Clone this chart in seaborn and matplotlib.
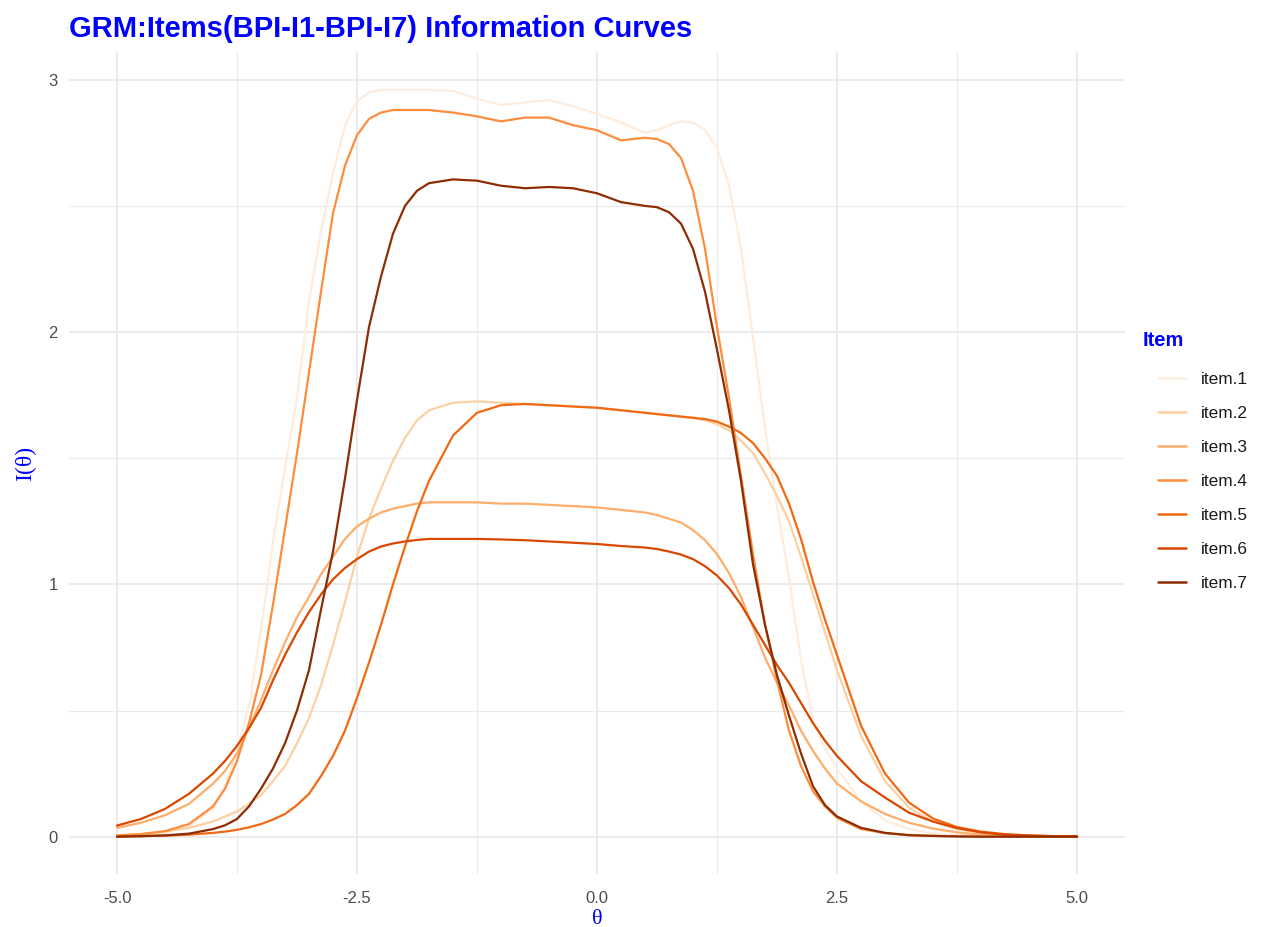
import pandas as pd
import matplotlib.pyplot as plt
import seaborn as sns

# theta grid: finer where the curves bend sharply
theta = [-5.0, -4.75, -4.5, -4.25, -4.0,
         -3.875, -3.75, -3.625, -3.5, -3.375, -3.25, -3.125, -3.0, -2.875,
         -2.75, -2.625, -2.5, -2.375, -2.25, -2.125, -2.0, -1.875, -1.75,
         -1.5, -1.25, -1.0, -0.75, -0.5, -0.25, 0.0, 0.25, 0.5,
         0.625, 0.75, 0.875, 1.0, 1.125, 1.25, 1.375, 1.5, 1.625, 1.75,
         1.875, 2.0, 2.125, 2.25, 2.375, 2.5,
         2.75, 3.0, 3.25, 3.5, 3.75, 4.0, 4.25, 4.5, 4.75, 5.0]

# information values, one list per item
item1 = [0.003, 0.006, 0.015, 0.04, 0.11,
         0.20, 0.34, 0.52, 0.82, 1.17, 1.46, 1.74, 2.12, 2.40,
         2.63, 2.82, 2.915, 2.95, 2.96, 2.96, 2.96, 2.96, 2.96,
         2.955, 2.925, 2.90, 2.91, 2.92, 2.895, 2.865, 2.83, 2.79,
         2.80, 2.82, 2.835, 2.83, 2.80, 2.73, 2.58, 2.33, 1.98, 1.62,
         1.31, 1.03, 0.70, 0.46, 0.35, 0.27,
         0.14, 0.065, 0.03, 0.013, 0.006, 0.003, 0.002, 0.001, 0.0, 0.0]
item2 = [0.005, 0.01, 0.02, 0.035, 0.06,
         0.08, 0.10, 0.13, 0.165, 0.22, 0.28, 0.37, 0.47, 0.60,
         0.76, 0.93, 1.11, 1.26, 1.38, 1.49, 1.58, 1.65, 1.69,
         1.72, 1.725, 1.72, 1.715, 1.71, 1.705, 1.70, 1.69, 1.68,
         1.675, 1.67, 1.665, 1.66, 1.65, 1.635, 1.61, 1.57, 1.52, 1.44,
         1.35, 1.25, 1.11, 0.96, 0.81, 0.66,
         0.40, 0.22, 0.115, 0.06, 0.03, 0.015, 0.007, 0.003, 0.001, 0.0]
item3 = [0.035, 0.055, 0.085, 0.13, 0.21,
         0.26, 0.33, 0.43, 0.54, 0.66, 0.77, 0.87, 0.95, 1.04,
         1.11, 1.18, 1.23, 1.26, 1.285, 1.30, 1.31, 1.32, 1.325,
         1.325, 1.325, 1.32, 1.32, 1.315, 1.31, 1.305, 1.295, 1.285,
         1.275, 1.26, 1.245, 1.215, 1.175, 1.12, 1.045, 0.95, 0.83, 0.71,
         0.61, 0.52, 0.42, 0.34, 0.27, 0.21,
         0.14, 0.09, 0.055, 0.032, 0.017, 0.008, 0.004, 0.002, 0.001, 0.0]
item4 = [0.005, 0.01, 0.022, 0.05, 0.12,
         0.19, 0.30, 0.45, 0.64, 0.92, 1.22, 1.52, 1.84, 2.16,
         2.47, 2.66, 2.78, 2.845, 2.87, 2.88, 2.88, 2.88, 2.88,
         2.87, 2.855, 2.835, 2.85, 2.85, 2.82, 2.80, 2.76, 2.77,
         2.765, 2.745, 2.69, 2.56, 2.33, 2.02, 1.74, 1.43, 1.12, 0.84,
         0.62, 0.42, 0.28, 0.18, 0.12, 0.075,
         0.03, 0.014, 0.006, 0.003, 0.001, 0.0, 0.0, 0.0, 0.0, 0.0]
item5 = [0.0, 0.002, 0.004, 0.008, 0.015,
         0.02, 0.027, 0.037, 0.05, 0.068, 0.09, 0.125, 0.17, 0.24,
         0.32, 0.42, 0.55, 0.69, 0.84, 1.00, 1.15, 1.29, 1.41,
         1.59, 1.68, 1.71, 1.715, 1.71, 1.705, 1.70, 1.69, 1.68,
         1.675, 1.67, 1.665, 1.66, 1.655, 1.645, 1.625, 1.60, 1.56, 1.50,
         1.43, 1.32, 1.18, 1.01, 0.86, 0.72,
         0.44, 0.25, 0.135, 0.072, 0.038, 0.02, 0.01, 0.005, 0.002, 0.001]
item6 = [0.044, 0.07, 0.11, 0.17, 0.25,
         0.30, 0.36, 0.43, 0.51, 0.62, 0.72, 0.81, 0.89, 0.96,
         1.02, 1.065, 1.10, 1.13, 1.15, 1.162, 1.17, 1.176, 1.18,
         1.18, 1.18, 1.178, 1.175, 1.17, 1.165, 1.16, 1.152, 1.146,
         1.14, 1.13, 1.118, 1.10, 1.072, 1.035, 0.985, 0.92, 0.84, 0.76,
         0.68, 0.61, 0.53, 0.45, 0.38, 0.32,
         0.22, 0.155, 0.095, 0.06, 0.034, 0.017, 0.008, 0.004, 0.002, 0.001]
item7 = [0.0, 0.002, 0.005, 0.012, 0.03,
         0.045, 0.07, 0.12, 0.19, 0.27, 0.37, 0.50, 0.66, 0.90,
         1.13, 1.42, 1.73, 2.02, 2.22, 2.39, 2.50, 2.56, 2.59,
         2.605, 2.60, 2.58, 2.57, 2.575, 2.57, 2.55, 2.515, 2.50,
         2.495, 2.475, 2.43, 2.33, 2.16, 1.93, 1.69, 1.41, 1.08, 0.84,
         0.64, 0.48, 0.33, 0.20, 0.125, 0.08,
         0.035, 0.015, 0.006, 0.003, 0.001, 0.0, 0.0, 0.0, 0.0, 0.0]

item_names = ['item.1', 'item.2', 'item.3', 'item.4', 'item.5', 'item.6', 'item.7']
item_values = [item1, item2, item3, item4, item5, item6, item7]
colors = ['#FEEDDE', '#FDD0A2', '#FDAE6B', '#FD8D3C', '#F16913', '#D94801', '#8C2D04']

x_ticks = [-5.0, -2.5, 0.0, 2.5, 5.0]
x_tick_labels = ['-5.0', '-2.5', '0.0', '2.5', '5.0']
y_ticks = [0, 1, 2, 3]

# long-form table for seaborn
df = pd.concat([pd.DataFrame({'theta': theta, 'info': vals, 'Item': name})
                for name, vals in zip(item_names, item_values)], ignore_index=True)

sns.set_style("white")
plt.rcParams['font.family'] = ['Liberation Sans', 'DejaVu Sans']

W, H = 1262, 927
fig = plt.figure(figsize=(W / 100, H / 100), dpi=100)
ax = fig.add_axes([69 / W, 1 - 874 / H, (1125 - 69) / W, (874 - 52) / H])

sns.lineplot(data=df, x='theta', y='info', hue='Item', hue_order=item_names,
             palette=colors, linewidth=1.6, estimator=None, sort=False, ax=ax)

ax.set_xlim(-5.5, 5.5)
ax.set_ylim(-0.148, 3.11)
ax.set_xticks(x_ticks)
ax.set_xticklabels(x_tick_labels)
ax.set_xticks([-3.75, -1.25, 1.25, 3.75], minor=True)
ax.set_yticks(y_ticks)
ax.set_yticks([0.5, 1.5, 2.5], minor=True)
ax.grid(which='major', color='#EBEBEB', linewidth=1.4)
ax.grid(which='minor', color='#EBEBEB', linewidth=0.8)
ax.set_axisbelow(True)
ax.tick_params(which='both', length=0, labelsize=12, labelcolor='#4D4D4D')
ax.tick_params(axis='x', pad=12)
ax.tick_params(axis='y', pad=8)
for s in ax.spines.values():
    s.set_visible(False)
ax.set_xlabel('')
ax.set_ylabel('')

# legend rebuilt ggplot-style
handles, labels = ax.get_legend_handles_labels()
ax.get_legend().remove()
for h in handles:
    h.set_linewidth(1.8)
fig.legend(handles, labels, loc='upper left', bbox_to_anchor=(1158 / W, 1 - 372 / H),
           frameon=False, fontsize=12.4, handlelength=1.6, handletextpad=0.9,
           labelspacing=1.1, borderpad=0, borderaxespad=0, labelcolor='#1A1A1A')
fig.text(1143 / W, 1 - 340 / H, 'Item', fontsize=14.5, fontweight='bold',
         color='#0000FF', va='center', ha='left')

# titles
fig.text(69 / W, 1 - 29 / H, 'GRM:Items(BPI-I1-BPI-I7) Information Curves',
         fontsize=21, fontweight='bold', color='#0000FF', va='center', ha='left')
fig.text(597 / W, 1 - 920 / H, 'θ', fontsize=16, color='#0000FF',
         family=['Liberation Serif', 'DejaVu Serif'], ha='center', va='center')
fig.text(26 / W, 1 - 463 / H, 'I(θ)', fontsize=17, color='#0000FF',
         family=['Liberation Serif', 'DejaVu Serif'],
         rotation=90, ha='center', va='center')

fig.savefig('out.png', dpi=100)
